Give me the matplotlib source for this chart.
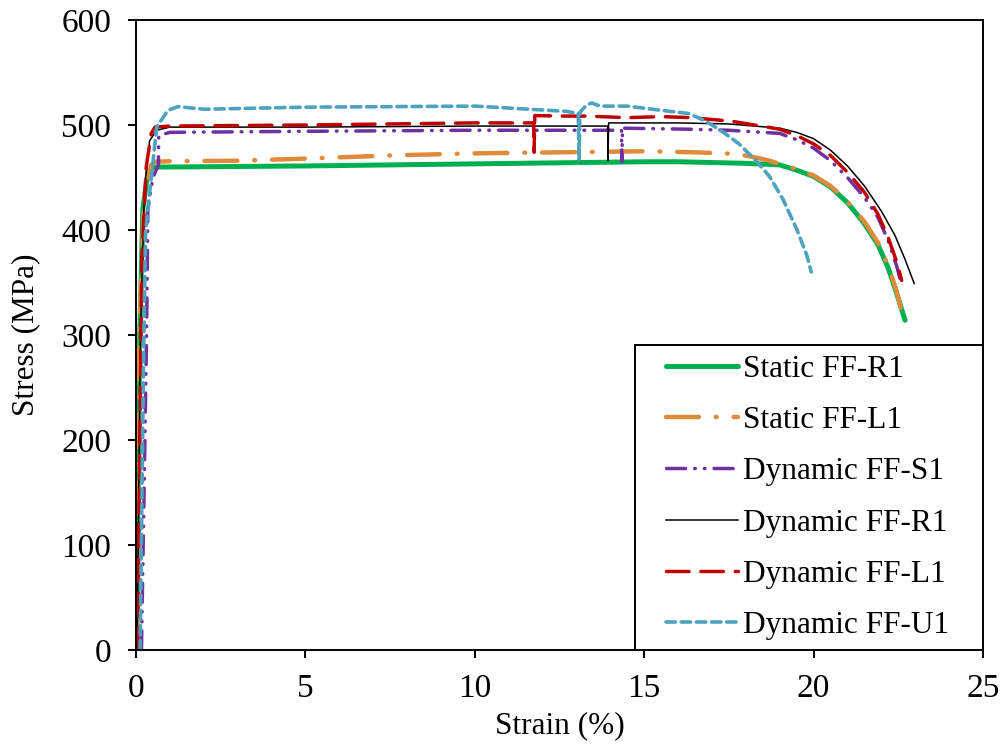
import matplotlib
matplotlib.use("Agg")
import matplotlib.pyplot as plt
from matplotlib.legend_handler import HandlerLine2D

plt.rcParams['font.family'] = ['Liberation Serif', 'DejaVu Serif']
plt.rcParams['font.size'] = 22.5

# stress-strain curves, strain in %, stress in MPa
static_r1_strain = [0.02, 0.06, 0.11, 0.2, 0.35, 0.5, 1, 5, 10, 15, 16, 18, 19, 19.5,
                    20, 20.5, 21, 21.5, 21.9, 22.2, 22.45, 22.7]
static_r1_stress = [0, 150, 300, 420, 455, 460, 460, 461, 463, 465, 465, 463.5, 462, 457,
                    451, 441, 426, 406, 386, 364, 340, 314]

static_l1_strain = [0.02, 0.1, 0.25, 0.45, 0.56, 1, 3, 5, 7.5, 10, 12.5, 15, 16.5, 17.7,
                    18.3, 18.7, 19, 19.5, 20, 20.5, 21, 21.5, 21.9, 22.2, 22.45, 22.6]
static_l1_stress = [0, 300, 440, 462, 465, 465.5, 466, 468, 471, 473, 474, 475, 474, 472.5,
                    469, 466, 463, 458, 452, 442, 427, 408, 388, 366, 342, 322]

dyn_s1_strain = [0.16, 0.25, 0.31, 0.35, 0.5, 0.66, 0.67, 1, 5, 10, 14.33, 14.34, 14.36,
                 16.3, 17.5, 19, 19.5, 20, 20.5, 21, 21.5, 21.9, 22.2, 22.45, 22.61]
dyn_s1_stress = [0, 176, 300, 420, 450, 462, 490, 493, 494, 495, 495, 465, 497,
                 496, 495, 492, 486, 478, 466, 450, 431, 412, 390, 366, 346]

dyn_r1_strain = [0.03, 0.13, 0.25, 0.4, 0.61, 1, 5, 10, 13.92, 13.93, 13.95, 16, 17.5,
                 19, 19.5, 20, 20.5, 21, 21.5, 22, 22.4, 22.7, 22.97]
dyn_r1_stress = [0, 300, 440, 485, 495, 498, 498, 499, 499, 466, 502, 502, 501,
                 497, 493, 487, 476, 461, 442, 418, 395, 372, 349]

dyn_l1_strain = [0.05, 0.17, 0.3, 0.45, 0.56, 1, 5, 10, 11.74, 11.75, 11.77, 12.6, 13.3,
                 14.5, 15.5, 16.4, 17.6, 19, 19.5, 20, 20.5, 21, 21.5, 21.9, 22.2,
                 22.45, 22.6]
dyn_l1_stress = [0, 370, 460, 492, 498, 499, 500, 502, 502, 474, 509, 508.5, 508.5,
                 507, 508, 507, 503.5, 496, 490, 482, 471, 455, 436, 415, 393,
                 370, 352]

dyn_u1_strain = [0.12, 0.22, 0.28, 0.41, 0.61, 0.94, 1.24, 2, 5, 10, 12.7, 13.05, 13.08,
                 13.1, 13.3, 13.45, 13.7, 14.5, 15.5, 16.3, 16.8, 17.3, 17.8, 18.3,
                 18.7, 19.1, 19.5, 19.8, 19.93]
dyn_u1_stress = [0, 270, 397, 438, 498, 514, 517.5, 515, 517, 518, 513, 511, 467,
                 512, 519, 521, 518, 518, 514, 511, 504, 494, 482, 466,
                 451, 429, 401, 376, 360]

fig = plt.figure(figsize=(10.01, 7.47), dpi=100)
ax = fig.add_axes([0.1359, 0.1299, 0.8461, 0.8433])

ax.plot(static_r1_strain, static_r1_stress, color='#00B050', lw=3.6,
        solid_capstyle='round', label='Static FF-R1')
ax.plot(static_l1_strain, static_l1_stress, color='#E08A3C', lw=3.2,
        dashes=(7.4, 3.8, 0.2, 3.8), dash_capstyle='round', label='Static FF-L1')
ax.plot(dyn_s1_strain, dyn_s1_stress, color='#7030A0', lw=2.5,
        dashes=(5.5, 2.6, 0.2, 2.6, 0.2, 2.6), dash_capstyle='round',
        label='Dynamic FF-S1')
ax.plot(dyn_r1_strain, dyn_r1_stress, color='black', lw=1.1, label='Dynamic FF-R1')
ax.plot(dyn_l1_strain, dyn_l1_stress, color='#C00000', lw=2.5,
        dashes=(6.5, 3.4), dash_capstyle='round', label='Dynamic FF-L1')
ax.plot(dyn_u1_strain, dyn_u1_stress, color='#4BA3BD', lw=2.6,
        dashes=(2.6, 1.6), dash_capstyle='round', label='Dynamic FF-U1')

ax.set_xlim(0, 25)
ax.set_ylim(0, 600)
ax.set_xticks(range(0, 26, 5))
ax.set_yticks(range(0, 601, 100))
ax.tick_params(direction='out', length=6, width=1.4, labelsize=24)
ax.tick_params(axis='x', pad=11)
ax.tick_params(axis='y', pad=12)
for sp in ax.spines.values():
    sp.set_linewidth(1.4)

ax.set_xlabel('Strain (%)', labelpad=5)
ax.set_ylabel('Stress (MPa)', labelpad=15)

# wider legend box; the sample lines are inset from its left edge with xpad
leg_w = 348 / 847
leg = ax.legend(loc='lower right', bbox_to_anchor=(1 - leg_w, 0.0, leg_w, 0.5),
                mode='expand', borderaxespad=0, fontsize=22.5,
                fancybox=False, edgecolor='black', framealpha=1,
                handlelength=2.98, handletextpad=0.16, labelspacing=0.71,
                borderpad=0.32,
                handler_map={plt.Line2D: HandlerLine2D(xpad=0.66)})
leg.get_frame().set_linewidth(1.4)

fig.savefig('out.png', dpi=100)
